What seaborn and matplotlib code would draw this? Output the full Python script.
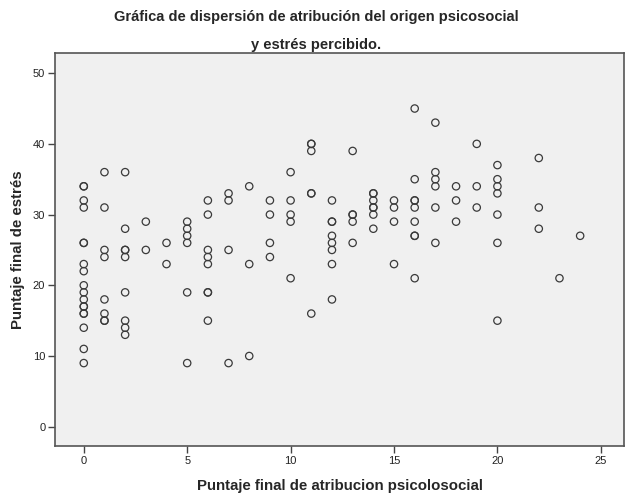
import matplotlib
matplotlib.use("Agg")
import matplotlib.pyplot as plt
import seaborn as sns
import pandas as pd

# Puntaje final de atribucion psicosocial (x) / Puntaje final de estres (y)
atribucion = (
    [0] * 18 + [1] * 8 + [2] * 9 + [3] * 2 + [4] * 2 + [5] * 6 + [6] * 8
    + [7] * 4 + [8] * 3 + [9] * 4 + [10] * 5 + [11] * 6 + [12] * 8
    + [13] * 5 + [14] * 7 + [15] * 4 + [16] * 9 + [17] * 6 + [18] * 3
    + [19] * 3 + [20] * 7 + [22] * 3 + [23] + [24]
)
estres = [
    34, 34, 32, 31, 26, 26, 23, 22, 20, 19, 18, 17, 17, 16, 16, 14, 11, 9,  # 0
    36, 31, 25, 24, 18, 16, 15, 15,                                          # 1
    36, 28, 25, 25, 24, 19, 15, 14, 13,                                      # 2
    29, 25,                                                                  # 3
    26, 23,                                                                  # 4
    29, 28, 27, 26, 19, 9,                                                   # 5
    32, 30, 25, 24, 23, 19, 19, 15,                                          # 6
    33, 32, 25, 9,                                                           # 7
    34, 23, 10,                                                              # 8
    32, 30, 26, 24,                                                          # 9
    36, 32, 30, 29, 21,                                                      # 10
    40, 40, 39, 33, 33, 16,                                                  # 11
    32, 29, 29, 27, 26, 25, 23, 18,                                          # 12
    39, 30, 30, 29, 26,                                                      # 13
    33, 33, 32, 31, 31, 30, 28,                                              # 14
    32, 31, 29, 23,                                                          # 15
    45, 35, 32, 32, 31, 29, 27, 27, 21,                                      # 16
    43, 36, 35, 34, 31, 26,                                                  # 17
    34, 32, 29,                                                              # 18
    40, 34, 31,                                                              # 19
    37, 35, 34, 33, 30, 26, 15,                                              # 20
    38, 31, 28,                                                              # 22
    21,                                                                      # 23
    27,                                                                      # 24
]
x_ticks = [0, 5, 10, 15, 20, 25]
y_ticks = [0, 10, 20, 30, 40, 50]

df = pd.DataFrame({"atribucion": atribucion, "estres": estres})

sns.set_style("white")
plt.rcParams["font.family"] = ["Liberation Sans", "DejaVu Sans"]

fig = plt.figure(figsize=(6.26, 4.99), dpi=100)
ax = fig.add_axes([0.0879, 0.1056, 0.9089, 0.7876])
ax.set_facecolor("#f0f0f0")

sns.scatterplot(data=df, x="atribucion", y="estres", ax=ax,
                marker="o", s=28, facecolor="none",
                edgecolor="#3a3a3a", linewidth=0.9)

ax.set_xlim(-1.39, 26.12)
ax.set_ylim(-2.77, 52.81)
ax.set_xticks(x_ticks)
ax.set_yticks(y_ticks)
ax.tick_params(axis="both", direction="out", length=5, width=1,
               color="#444444", labelsize=8, labelcolor="#222222", pad=2,
               left=True, bottom=True)
for lab in ax.get_xticklabels() + ax.get_yticklabels():
    lab.set_fontfamily(["Liberation Sans Narrow", "Liberation Sans"])
for sp in ax.spines.values():
    sp.set_color("#555555")
    sp.set_linewidth(1.2)

ax.set_xlabel("Puntaje final de atribucion psicolosocial",
              fontsize=10.8, fontweight="bold", labelpad=9)
ax.set_ylabel("Puntaje final de estrés", fontsize=10.8, fontweight="bold",
              labelpad=6)
fig.text(0.505, 0.965, "Gráfica de dispersión de atribución del origen psicosocial",
         ha="center", va="center", fontsize=10.5, fontweight="bold")
fig.text(0.505, 0.91, "y estrés percibido.",
         ha="center", va="center", fontsize=10.5, fontweight="bold")

fig.savefig("out.png", dpi=100, facecolor="white")
